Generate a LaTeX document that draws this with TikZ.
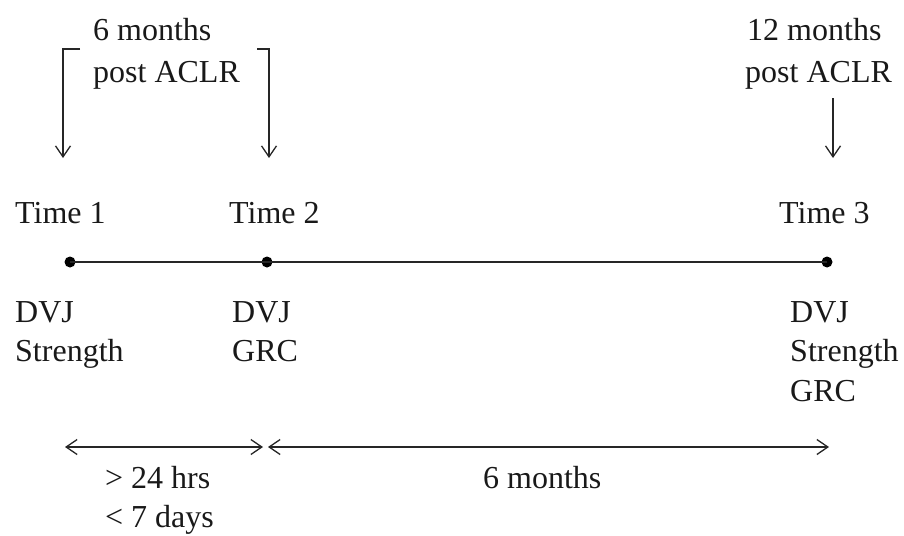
\documentclass[tikz,border=0pt]{standalone}
\usepackage{fontspec}
\setmainfont{Liberation Serif}
\usetikzlibrary{arrows.meta}
\begin{document}
\begin{tikzpicture}[x=1pt,y=-1pt,
  lbl/.style={anchor=base west, inner sep=0pt, font=\fontsize{32}{40}\selectfont, text=black!90},
  dot/.style={circle, fill=black, inner sep=0pt, minimum size=11pt},
  ln/.style={line width=1.3pt, draw=black!85},
  tip/.style={Straight Barb[length=11pt,width=15pt,line width=1.3pt]},
  arr/.style={ln, -{Straight Barb[length=11pt,width=15pt,line width=1.3pt]}},
  darr/.style={ln, {Straight Barb[length=11pt,width=15pt,line width=1.3pt]}-{Straight Barb[length=11pt,width=15pt,line width=1.3pt]}}
]
\useasboundingbox (0,0) rectangle (904,535);

% top labels
\node[lbl] (sixA) at (93,41) {6 months};
\node[lbl] (sixB) at (93,82) {post ACLR};
\node[lbl] (twA) at (747,41) {12 months};
\node[lbl] (twB) at (745,82) {post ACLR};

% brackets/arrows
\coordinate (bl0) at (80,49);
\coordinate (bl1) at (63,49);
\coordinate (bl2) at (63,158);
\coordinate (br0) at (257,49);
\coordinate (br1) at (269,49);
\coordinate (br2) at (269,158);
\coordinate (r1) at (833,98);
\coordinate (r2) at (833,158);
\draw[arr] (bl0) -- (bl1) -- (bl2);
\draw[arr] (br0) -- (br1) -- (br2);
\draw[arr] (r1) -- (r2);

% time labels
\node[lbl] (t1) at (15,223) {Time 1};
\node[lbl] (t2) at (229,223) {Time 2};
\node[lbl] (t3) at (779,223) {Time 3};

% timeline
\node[dot] (d1) at (70,262) {};
\node[dot] (d2) at (267,262) {};
\node[dot] (d3) at (827,262) {};
\draw[ln] (d1.center) -- (d2.center) -- (d3.center);

% measures
\node[lbl] (m1a) at (15,322) {DVJ};
\node[lbl] (m1b) at (15,361) {Strength};
\node[lbl] (m2a) at (232,322) {DVJ};
\node[lbl] (m2b) at (232,361) {GRC};
\node[lbl] (m3a) at (790,322) {DVJ};
\node[lbl] (m3b) at (790,361) {Strength};
\node[lbl] (m3c) at (790,401) {GRC};

% intervals
\coordinate (i1) at (65,447);
\coordinate (i2) at (263,447);
\coordinate (i3) at (268,447);
\coordinate (i4) at (829,447);
\draw[darr] (i1) -- (i2);
\draw[darr] (i3) -- (i4);
\node[lbl] (g1) at (105,488) {> 24 hrs};
\node[lbl] (g2) at (105,527) {< 7 days};
\node[lbl] (g3) at (483,488) {6 months};
\end{tikzpicture}
\end{document}
